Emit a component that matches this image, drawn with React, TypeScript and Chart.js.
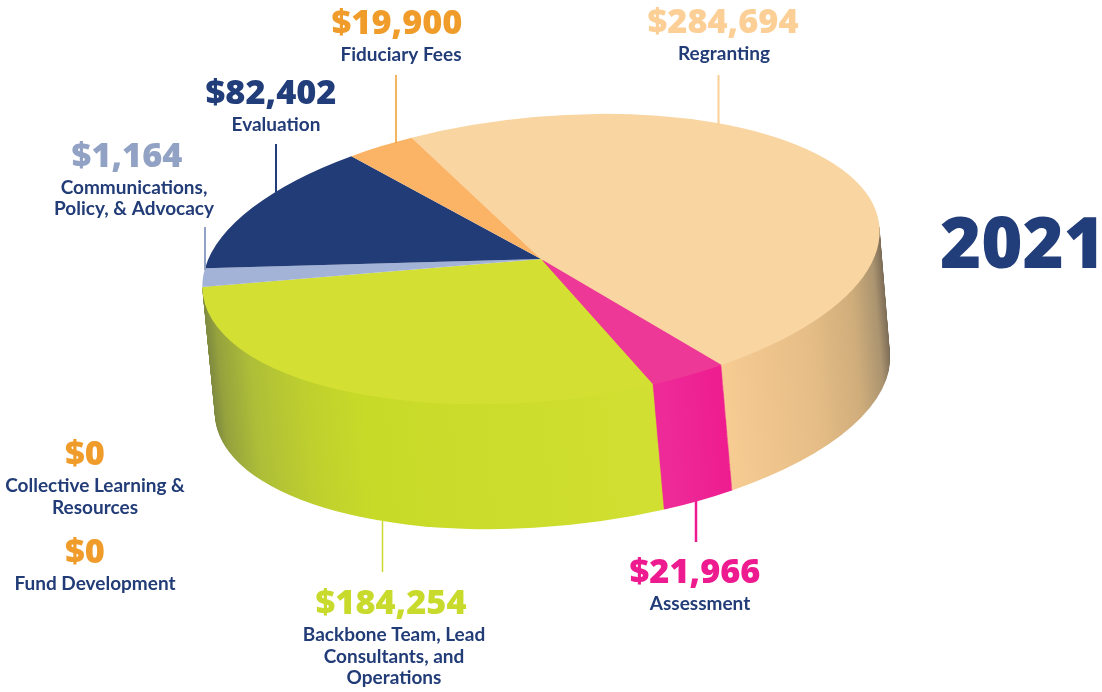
import React, { useEffect, useRef } from "react";
import { Chart, registerables } from "chart.js";

Chart.register(...registerables);

const categories = ["Regranting", "Assessment", "Backbone Team, Lead Consultants, and Operations", "Communications, Policy, & Advocacy", "Evaluation", "Fiduciary Fees", "Collective Learning & Resources", "Fund Development"];
const amounts = [284694, 21966, 184254, 1164, 82402, 19900, 0, 0];
// Slice sizes as drawn in the picture (the small slices are not strictly proportional)
const drawnShares = [170.2, 12.9, 109.1, 7.5, 48.7, 11.6, 0, 0];
const topColors = ["#f9d5a2", "#ee3897", "#d3e033", "#a3b3d8", "#223c77", "#fbb366", "#f09c2b", "#f09c2b"];
const valueColors = ["#fbcf96", "#ee1a8f", "#c8da2b", "#92a2c4", "#213d7a", "#f09c2b", "#f09c2b", "#f09c2b"];
const yearLabel = "2021";

const labelLayout = [
  { vx: 723, vy: 21, lx: 724, ly: [53], lines: ["Regranting"] },
  { vx: 695, vy: 571, lx: 700, ly: [603], lines: ["Assessment"] },
  { vx: 391, vy: 602, lx: 394, ly: [634, 656, 677], lines: ["Backbone Team, Lead", "Consultants, and", "Operations"] },
  { vx: 127, vy: 155, lx: 134, ly: [187, 208], lines: ["Communications,", "Policy, & Advocacy"] },
  { vx: 271, vy: 92, lx: 276, ly: [124], lines: ["Evaluation"] },
  { vx: 397, vy: 22, lx: 401, ly: [54], lines: ["Fiduciary Fees"] },
  { vx: 85, vy: 453, lx: 95, ly: [485, 507], lines: ["Collective Learning &", "Resources"] },
  { vx: 85, vy: 551, lx: 95, ly: [583], lines: ["Fund Development"] },
];
const leaders = [
  { i: 0, x: 718.5, y0: 75, y1: 126, w: 2 },
  { i: 1, x: 696, y0: 501, y1: 542, w: 2.5 },
  { i: 2, x: 382.5, y0: 521, y1: 572, w: 1.5 },
  { i: 3, x: 205, y0: 227, y1: 270, w: 2 },
  { i: 4, x: 276, y0: 144, y1: 192, w: 2 },
  { i: 5, x: 396, y0: 75, y1: 143, w: 1.5 },
];

const geo = { cx: 541, cy: 259, rx: 340, ry: 142, tilt: -5.6, dx: 11.5, dy: 126, dTilt: 0, drx: -1, dry: -1 };
const rad = Math.PI / 180;

function place(ctx: CanvasRenderingContext2D, ax: number, ay: number, r: number, t: number) {
  ctx.translate(geo.cx + geo.dx * t, geo.cy + geo.dy * t);
  ctx.rotate((geo.tilt + geo.dTilt * t) * rad);
  ctx.scale((geo.rx + geo.drx * t) / r, (geo.ry + geo.dry * t) / r);
  ctx.translate(-ax, -ay);
}

function wallGradient(ctx: CanvasRenderingContext2D, i: number, ax: number, r: number) {
  const g = ctx.createLinearGradient(ax - r, 0, ax + r, 0);
  const stops: [number, string][] =
    i === 0
      ? [[0.75, "#f6cc93"], [0.88, "#e6bd86"], [0.95, "#cfad7b"], [0.985, "#ab9470"], [1, "#7c6c56"]]
      : i === 1
      ? [[0.66, "#ee2a98"], [0.76, "#ee1a8e"]]
      : [[0, "#7f8a40"], [0.015, "#95a23d"], [0.06, "#aebe38"], [0.14, "#bfd02e"], [0.22, "#c8da28"], [0.7, "#d2e033"]];
  stops.forEach(([o, c]) => g.addColorStop(o, c));
  return g;
}

const pie3d = {
  id: "pie3d",
  beforeDatasetsDraw(chart: any) {
    const ctx: CanvasRenderingContext2D = chart.ctx;
    const arcs = chart.getDatasetMeta(0).data;
    const a0 = arcs[0];
    const { x: ax, y: ay, outerRadius: r } = a0;
    const layers = 130;
    const two = Math.PI * 2;
    const front = 182.4 * rad;
    for (let k = layers; k >= 1; k--) {
      const t = k / layers;
      ctx.save();
      place(ctx, ax, ay, r, t);
      arcs.forEach((arc: any, i: number) => {
        let s = arc.startAngle;
        let e = arc.endAngle;
        while (s < 0) { s += two; e += two; }
        // only the front half of the rim can be seen
        const ranges: [number, number][] = [[0, front], [two, two + front]];
        ranges.forEach(([lo, hi]) => {
          const a = Math.max(s, lo);
          const b = Math.min(e, hi);
          if (b <= a) return;
          ctx.beginPath();
          ctx.moveTo(arc.x, arc.y);
          ctx.arc(arc.x, arc.y, arc.outerRadius, a, b);
          ctx.closePath();
          ctx.fillStyle = wallGradient(ctx, i > 2 ? 2 : i, ax, r);
          ctx.fill();
        });
      });
      ctx.restore();
    }
    ctx.save();
    place(ctx, ax, ay, r, 0);
  },
  afterDatasetsDraw(chart: any) {
    chart.ctx.restore();
  },
  afterDraw(chart: any) {
    const ctx: CanvasRenderingContext2D = chart.ctx;
    ctx.save();
    leaders.forEach((l) => {
      ctx.strokeStyle = valueColors[l.i];
      ctx.lineWidth = l.w;
      ctx.beginPath();
      ctx.moveTo(l.x, l.y0);
      ctx.lineTo(l.x, l.y1);
      ctx.stroke();
    });
    ctx.textAlign = "center";
    ctx.textBaseline = "middle";
    labelLayout.forEach((p, i) => {
      ctx.font = '800 34.3px "Open Sans"';
      ctx.fillStyle = valueColors[i];
      ctx.fillText("$" + amounts[i].toLocaleString("en-US"), p.vx, p.vy + 2.5);
      ctx.font = '700 19px "Lato"';
      ctx.fillStyle = "#223c77";
      p.lines.forEach((line, j) => ctx.fillText(line, p.lx, p.ly[j] + 1));
    });
    ctx.font = '800 70.5px "Open Sans"';
    ctx.fillStyle = "#213d7a";
    ctx.fillText(yearLabel, 1022.5, 248);
    ctx.restore();
  },
};

export default function App() {
  const ref = useRef<HTMLCanvasElement>(null);
  useEffect(() => {
    const chart = new Chart(ref.current!, {
      type: "pie",
      data: {
        labels: categories,
        datasets: [{ data: drawnShares, backgroundColor: topColors, borderWidth: 0, clip: false } as any],
      },
      options: {
        animation: false,
        responsive: false,
        rotation: 339.9,
        events: [],
        plugins: { legend: { display: false }, tooltip: { enabled: false } },
      },
      plugins: [pie3d as any],
    });
    return () => chart.destroy();
  }, []);
  return (
    <canvas
      ref={ref}
      width={1102}
      height={692}
      style={{ position: "fixed", left: 0, top: 0, width: 1102, height: 692, background: "#fff" }}
    />
  );
}
